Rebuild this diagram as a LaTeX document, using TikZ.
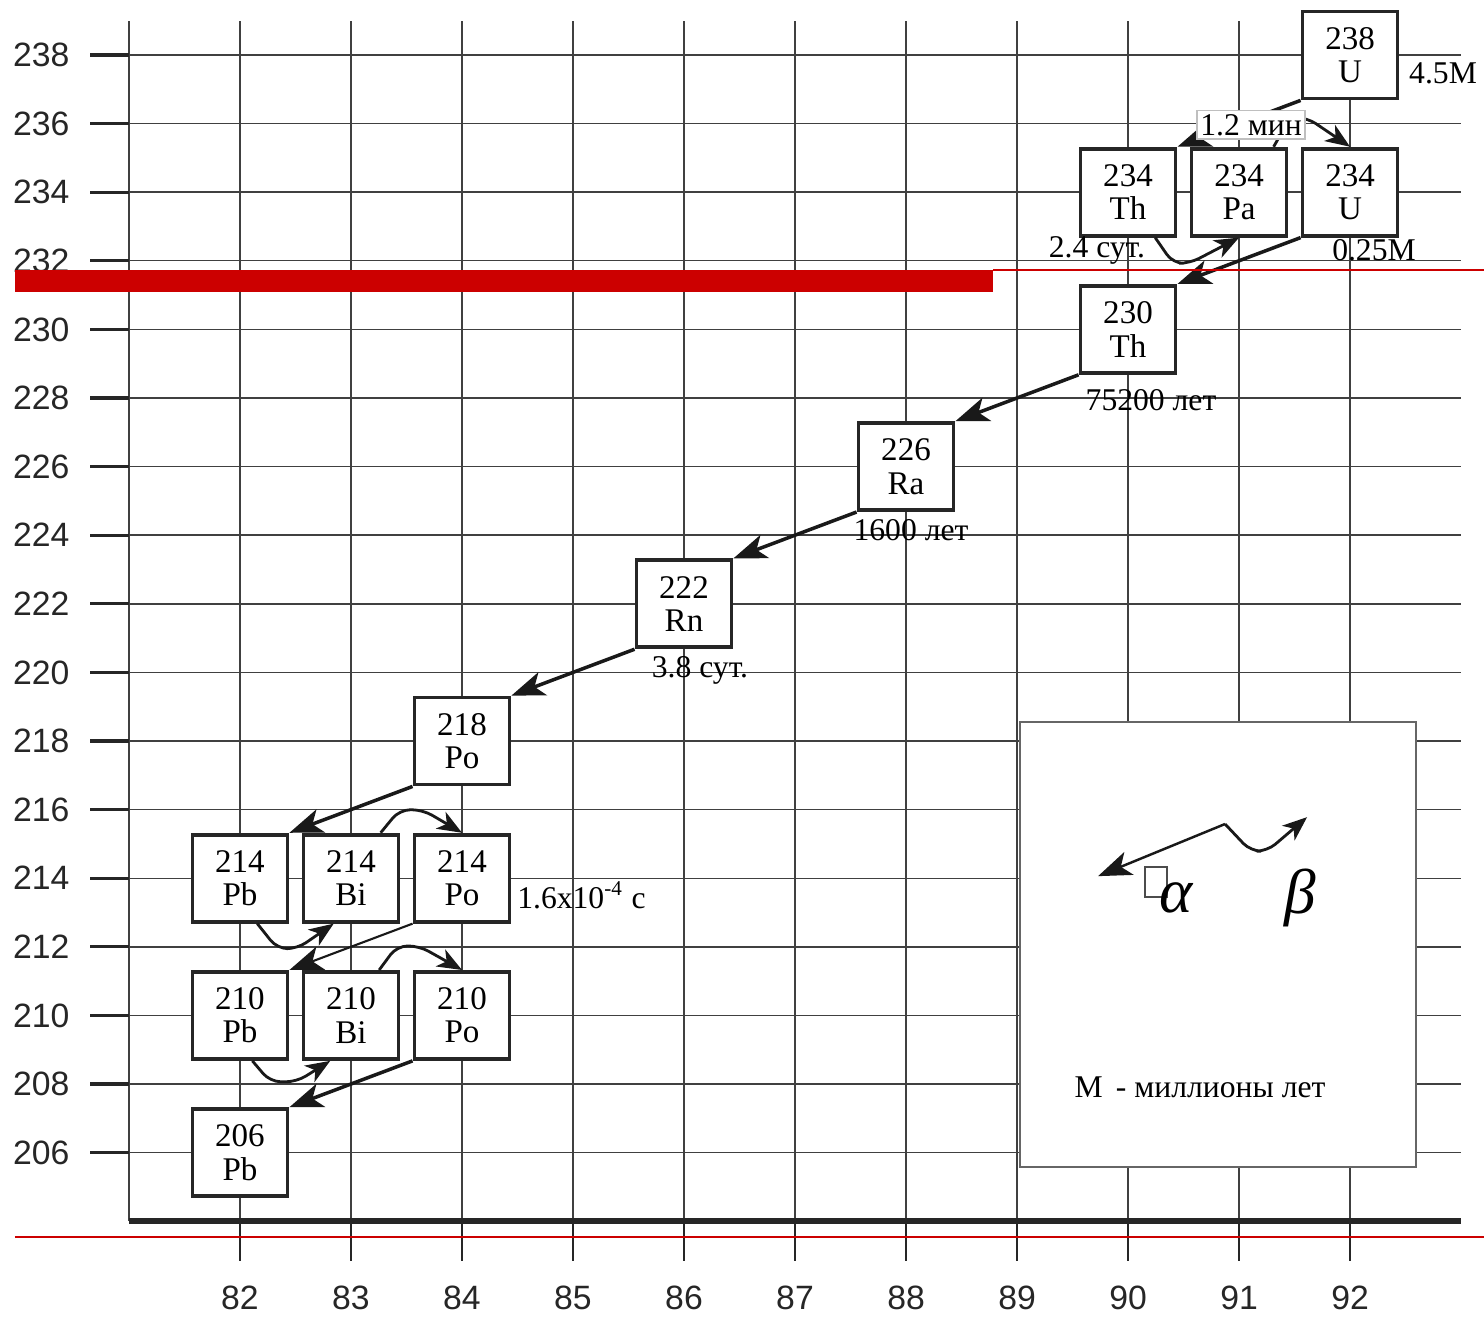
\documentclass[tikz,border=0pt]{standalone}
\usepackage{fontspec}
\setmainfont{Liberation Serif}
\setsansfont{Liberation Sans}
\usepackage{xcolor}
\usepackage{tikz}
\usetikzlibrary{arrows.meta,calc}

\definecolor{barred}{HTML}{CC0000}

\begin{document}
\begin{tikzpicture}[
  x=1.11cm, y=0.343cm, shift={(-88.62cm,-69.024cm)},
  grid/.style={draw=black!75, line width=0.4pt},
  nuc/.style={rectangle, draw=black!85, line width=1.1pt, fill=white,
              minimum width=0.95cm, minimum height=0.87cm, inner sep=0pt,
              align=center, font=\fontsize{9.4}{9.5}\selectfont},
  tlab/.style={font=\fontsize{9}{10}\selectfont, inner sep=1pt},
  axlab/.style={font=\sffamily\fontsize{9.6}{10}\selectfont, text=black!85, inner sep=0pt},
  adecay/.style={draw=black!90, line width=1pt,
                 -{Stealth[length=9.5pt,width=7pt,inset=2.5pt]}},
  bdecay/.style={draw=black!90, line width=0.8pt, rounded corners=3pt,
                 -{Stealth[length=7pt,width=5.5pt,inset=2pt]}}
]
\useasboundingbox (79.838,201.236) rectangle (93.207,239.603);

\foreach \a in {206,208,...,238}
  \draw[grid] (81,\a) -- (93,\a);
\foreach \z in {81,...,92}
  \draw[grid] (\z,204) -- (\z,239);

\foreach \a in {206,208,...,238}{
  \draw[line width=0.9pt, black!85] (80.65,\a) -- (81,\a);
  \node[axlab, anchor=east] (ya\a) at (80.47,\a) {\a};
}
\draw[line width=1.7pt, black!85] (81,204) -- (93,204);
\foreach \z in {82,...,92}{
  \draw[line width=0.7pt, black!85] (\z,204) -- (\z,202.84);
  \node[axlab] (xa\z) at (\z,201.76) {\z};
}

\node[nuc] (u238)  at (92,238) {238\\U};
\node[nuc] (th234) at (90,234) {234\\Th};
\node[nuc] (pa234) at (91,234) {234\\Pa};
\node[nuc] (u234)  at (92,234) {234\\U};
\node[nuc] (th230) at (90,230) {230\\Th};
\node[nuc] (ra226) at (88,226) {226\\Ra};
\node[nuc] (rn222) at (86,222) {222\\Rn};
\node[nuc] (po218) at (84,218) {218\\Po};
\node[nuc] (pb214) at (82,214) {214\\Pb};
\node[nuc] (bi214) at (83,214) {214\\Bi};
\node[nuc] (po214) at (84,214) {214\\Po};
\node[nuc] (pb210) at (82,210) {210\\Pb};
\node[nuc] (bi210) at (83,210) {210\\Bi};
\node[nuc] (po210) at (84,210) {210\\Po};
\node[nuc] (pb206) at (82,206) {206\\Pb};

\draw[adecay] (u238.south west)  -- (th234.north east);
\draw[adecay] (u234.south west)  -- (th230.north east);
\draw[adecay] (th230.south west) -- (ra226.north east);
\draw[adecay] (ra226.south west) -- (rn222.north east);
\draw[adecay] (rn222.south west) -- (po218.north east);
\draw[adecay] (po218.south west) -- (pb214.north east);
\draw[adecay, line width=0.6pt] (po214.south west) -- (pb210.north east);
\draw[adecay] (po210.south west) -- (pb206.north east);

\draw[bdecay] ($(th234.south)!.55!(th234.south east)$) -- ++(0.16,-0.75) -- ++(0.15,0) -- (pa234.south);
\draw[bdecay] ($(pa234.north)!.7!(pa234.north east)$) -- ++(0.15,0.85) -- ++(0.15,0) -- (u234.north);
\draw[bdecay] ($(pb214.south)!.35!(pb214.south east)$) -- ++(0.18,-0.73) -- ++(0.18,0) -- ($(bi214.south)!.35!(bi214.south west)$);
\draw[bdecay] ($(bi214.north)!.6!(bi214.north east)$) -- ++(0.17,0.67) -- ++(0.21,0) -- (po214.north);
\draw[bdecay] ($(pb210.south)!.25!(pb210.south east)$) -- ++(0.16,-0.61) -- ++(0.24,0) -- ($(bi210.south)!.42!(bi210.south west)$);
\draw[bdecay] ($(bi210.north)!.57!(bi210.north east)$) -- ++(0.16,0.7) -- ++(0.2,0) -- (po210.north);

\node[tlab] (t238)  at (92.838,237.475) {4.5M};
\node[tlab, fill=white, draw=black!25, line width=0.4pt] (t234p) at (91.108,235.96) {1.2 мин};
\node[tlab] (t234t) at (89.72,232.31) {2.4 сут.};
\node[tlab] (t234u) at (92.216,232.31) {0.25M};
\node[tlab] (t230)  at (90.207,227.94) {75200 лет};
\node[tlab] (t226)  at (88.045,224.15) {1600 лет};
\node[tlab] (t222)  at (86.144,220.07) {3.8 сут.};
\node[tlab, anchor=west] (t214) at (84.46,213.51) {1.6x10\textsuperscript{-4} с};

\node[draw=black!60, line width=0.5pt, fill=white, minimum width=3.96cm,
      minimum height=4.45cm, inner sep=0pt] (leg) at (90.811,212.07) {};
\coordinate (lo) at (90.874,215.58);
\coordinate (la) at (89.73,214.06);
\coordinate (lb) at (91.613,215.78);
\draw[adecay, line width=0.7pt] (lo) -- (la);
\draw[bdecay] (lo) -- ++(0.23,-0.79) -- ++(0.15,0) -- (lb);
\node[draw=black!70, line width=0.4pt, minimum width=0.22cm, minimum height=0.3cm,
      inner sep=0pt] (sq) at (90.252,213.89) {};
\node[font=\fontsize{18}{20}\selectfont\itshape, inner sep=0pt] (la1) at (90.432,213.42) {α};
\node[font=\fontsize{18}{20}\selectfont\itshape, inner sep=0pt] (lb1) at (91.55,213.41) {β};
\node[tlab] (mleg) at (90.649,207.91) {M\, - миллионы лет};

\fill[barred] (79.973,231.09) rectangle (88.784,231.73);
\draw[barred, line width=0.5pt] (88.784,231.73) -- (93.207,231.73);
\draw[barred, line width=0.5pt] (79.973,203.54) -- (93.207,203.54);
\end{tikzpicture}
\end{document}
